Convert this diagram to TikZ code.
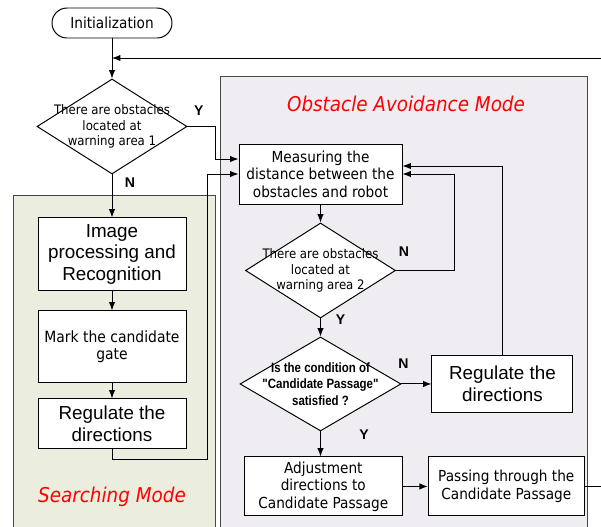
\documentclass[tikz,border=0pt]{standalone}
\usepackage{fontspec}
\setmainfont{DejaVu Sans}[FakeStretch=0.9]
\newfontfamily\arialfont{Liberation Sans}
\newfontfamily\arialnarrow{Liberation Sans}[FakeStretch=0.85]
\usetikzlibrary{arrows.meta,positioning,shapes.geometric,calc}
\definecolor{avoidgray}{RGB}{239,237,242}
\definecolor{searchgreen}{RGB}{235,238,222}
\definecolor{frameline}{RGB}{70,70,70}

\begin{document}
\begin{tikzpicture}[line width=0.7pt,
  every node/.style={font=\fontsize{10.8}{12.4}\selectfont},
  procbox/.style={draw,fill=white,align=center,inner sep=1pt},
  bigtext/.style={font=\arialfont\fontsize{13.4}{15.6}\selectfont},
  decision/.style={draw,diamond,fill=white,inner sep=0pt,minimum width=3.75cm,minimum height=2.375cm},
  dtext/.style={align=center,font=\fontsize{9.3}{11}\selectfont},
  yn/.style={font=\arialfont\bfseries\fontsize{10}{12}\selectfont},
  modetitle/.style={text=red,font=\itshape\fontsize{14.5}{16}\selectfont},
  flow/.style={-{Latex[length=2.1mm,width=1.6mm]}}]
  \useasboundingbox (0,0) rectangle (15.025,-13.15);

  % the two mode regions
  \filldraw[fill=avoidgray,draw=frameline,line width=0.5pt] (5.5,-1.9) rectangle (14.675,-13.6);
  \filldraw[fill=searchgreen,draw=frameline,line width=0.5pt] (0.325,-4.875) rectangle (5.375,-13.6);
  \node[modetitle] (avoidlbl) at (10.15,-2.6) {Obstacle Avoidance Mode};
  \node[modetitle] (searchlbl) at (2.8,-12.425) {Searching Mode};

  % searching branch
  \node[draw,rounded corners=0.375cm,minimum width=3cm,minimum height=0.75cm] (init) at (2.8,-0.575) {Initialization};
  \node[decision,below=1.0cm of init,label={[dtext]center:{There are obstacles\\located at\\warning area 1}}] (d1) {};
  \node[procbox,bigtext,below=1.075cm of d1,minimum width=3.7cm,minimum height=1.825cm] (img) {Image\\processing and\\Recognition};
  \node[procbox,below=0.475cm of img,minimum width=3.7cm,minimum height=1.8cm,font=\fontsize{11}{12.4}\selectfont] (mark) {Mark the candidate\\gate};
  \node[procbox,bigtext,below=0.375cm of mark,minimum width=3.7cm,minimum height=1.25cm] (reg1) {Regulate the\\directions};

  % avoidance branch
  \node[procbox,minimum width=4.075cm,minimum height=1.5cm] (meas) at (8.0125,-4.35) {Measuring the\\distance between the\\obstacles and robot};
  \node[decision,below=0.45cm of meas,label={[dtext]center:{There are obstacles\\located at\\warning area 2}}] (d2) {};
  \node[decision,below=0.45cm of d2,minimum width=4.025cm,minimum height=2.35cm,
    label={[align=center,font=\arialnarrow\bfseries\fontsize{9.6}{11.6}\selectfont]center:{Is the condition of\\"Candidate Passage"\\satisfied ?}}] (d3) {};
  \node[procbox,bigtext,right=0.75cm of d3,minimum width=3.525cm,minimum height=1.425cm] (reg2) {Regulate the\\directions};
  \node[procbox,below=0.625cm of d3,xshift=0.07cm,minimum width=3.95cm,minimum height=1.475cm] (adj) {Adjustment\\directions to\\Candidate Passage};
  \node[procbox,right=0.625cm of adj,minimum width=3.9cm,minimum height=1.475cm] (pass) {Passing through the\\Candidate Passage};

  % branch labels
  \node[yn] (y1) at ($(d1.east)+(0.28,0.39)$) {Y};
  \node[yn] (n1) at ($(d1.south)+(0.45,-0.2)$) {N};
  \node[yn] (n2) at ($(d2.east)+(0.2,0.46)$) {N};
  \node[yn] (y2) at ($(d2.south)+(0.5,-0.03)$) {Y};
  \node[yn] (n3) at ($(d3.east)+(0.05,0.5)$) {N};
  \node[yn] (y3) at ($(d3.south)+(1.09,-0.08)$) {Y};

  % connectors
  \foreach \a/\b in {init/d1,d1/img,img/mark,mark/reg1,meas/d2,d2/d3}{
    \draw[flow] (\a) -- (\b);
  }
  \draw[flow] (d3.south) -- (d3.south |- adj.north);
  \draw[flow] (d3) -- (reg2);
  \draw[flow] (adj) -- (pass);
  \draw[flow] (d1.east) -- ++(0.7,0) |- ([yshift=0.375cm]meas.west);
  \draw[flow] (reg1.south) -- ++(0,-0.25) -| (5.175,-4.35) -- (meas.west);
  \draw[flow] (d2.east) -| (11.35,-4.35) -- (meas.east);
  \draw[flow] (reg2.north) |- ([yshift=0.2cm]meas.east);
  \coordinate (fb) at (15.1,-1.45);
  \draw[flow] (pass.east) -| (fb) -- (fb -| init);
\end{tikzpicture}
\end{document}
